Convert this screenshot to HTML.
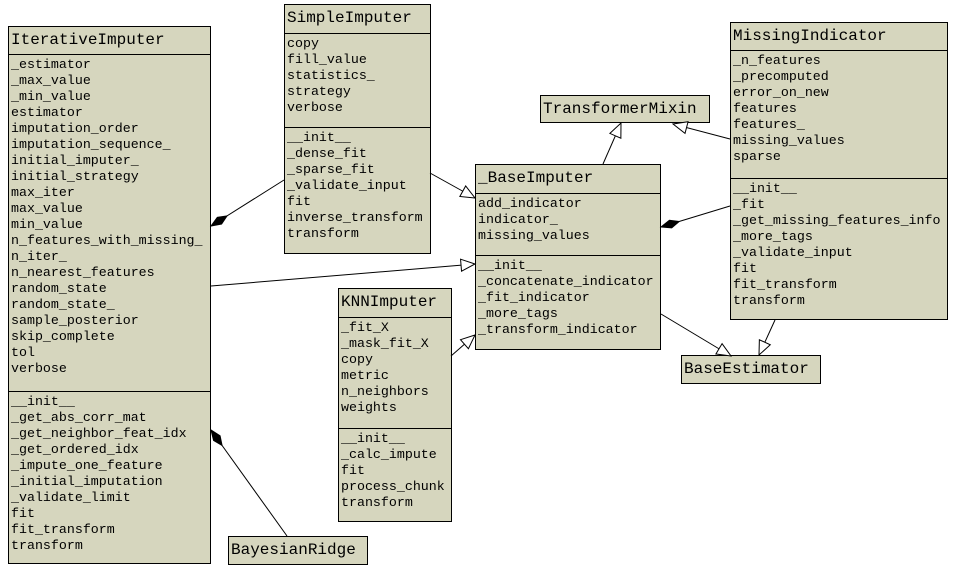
<!DOCTYPE html>
<html><head><style>
body{margin:0;width:955px;height:572px;background:#fff;position:relative;overflow:hidden;font-family:"Liberation Mono",monospace;}
.b{position:absolute;background:#d6d6be;border:1px solid #000;box-sizing:border-box;}
.h{font-size:16px;line-height:16px;padding:5px 0 0 2px;box-sizing:border-box;border-bottom:1px solid #000;white-space:pre;}
.s{font-size:13.3px;line-height:16px;padding:2px 0 0 2px;box-sizing:border-box;white-space:pre;}
.s+.s{border-top:1px solid #000;}
.n{border-bottom:none;}
svg{position:absolute;left:0;top:0;}
</style></head><body>
<div class="b" style="left:8px;top:26px;width:203px;height:538px">
<div class="h" style="height:28px">IterativeImputer</div>
<div class="s" style="height:336px">_estimator
_max_value
_min_value
estimator
imputation_order
imputation_sequence_
initial_imputer_
initial_strategy
max_iter
max_value
min_value
n_features_with_missing_
n_iter_
n_nearest_features
random_state
random_state_
sample_posterior
skip_complete
tol
verbose</div>
<div class="s">__init__
_get_abs_corr_mat
_get_neighbor_feat_idx
_get_ordered_idx
_impute_one_feature
_initial_imputation
_validate_limit
fit
fit_transform
transform</div>
</div>
<div class="b" style="left:284px;top:4px;width:147px;height:250px">
<div class="h" style="height:29px">SimpleImputer</div>
<div class="s" style="height:93px">copy
fill_value
statistics_
strategy
verbose</div>
<div class="s">__init__
_dense_fit
_sparse_fit
_validate_input
fit
inverse_transform
transform</div>
</div>
<div class="b" style="left:475px;top:164px;width:186px;height:186px">
<div class="h" style="height:29px">_BaseImputer</div>
<div class="s" style="height:61px">add_indicator
indicator_
missing_values</div>
<div class="s">__init__
_concatenate_indicator
_fit_indicator
_more_tags
_transform_indicator</div>
</div>
<div class="b" style="left:338px;top:288px;width:114px;height:234px">
<div class="h" style="height:29px">KNNImputer</div>
<div class="s" style="height:110px">_fit_X
_mask_fit_X
copy
metric
n_neighbors
weights</div>
<div class="s">__init__
_calc_impute
fit
process_chunk
transform</div>
</div>
<div class="b" style="left:730px;top:22px;width:218px;height:298px">
<div class="h" style="height:28px">MissingIndicator</div>
<div class="s" style="height:127px">_n_features
_precomputed
error_on_new
features
features_
missing_values
sparse</div>
<div class="s">__init__
_fit
_get_missing_features_info
_more_tags
_validate_input
fit
fit_transform
transform</div>
</div>
<div class="b" style="left:540px;top:95px;width:170px;height:28px"><div class="h n">TransformerMixin</div></div>
<div class="b" style="left:681px;top:355px;width:140px;height:29px"><div class="h n">BaseEstimator</div></div>
<div class="b" style="left:228px;top:536px;width:140px;height:29px"><div class="h n">BayesianRidge</div></div>
<svg width="955" height="572">
<defs>
<marker id="t" markerUnits="userSpaceOnUse" markerWidth="18" markerHeight="16" refX="15" refY="7" orient="auto"><path d="M1,1 L15,7 L1,13 Z" fill="#fff" stroke="#000"/></marker>
<marker id="d" markerUnits="userSpaceOnUse" markerWidth="22" markerHeight="12" refX="20" refY="5" orient="auto"><path d="M1,5 L10,1 L20,5 L10,9 Z" fill="#000" stroke="#000"/></marker>
</defs>
<g stroke="#000" stroke-width="1" fill="none">
<line x1="284" y1="180" x2="211" y2="226" marker-end="url(#d)"/>
<line x1="430" y1="173" x2="475" y2="198" marker-end="url(#t)"/>
<line x1="211" y1="286" x2="475" y2="264" marker-end="url(#t)"/>
<line x1="451" y1="356" x2="475" y2="335" marker-end="url(#t)"/>
<line x1="603" y1="164" x2="621" y2="123" marker-end="url(#t)"/>
<line x1="730" y1="139" x2="673" y2="124" marker-end="url(#t)"/>
<line x1="730" y1="206" x2="661" y2="227" marker-end="url(#d)"/>
<line x1="661" y1="314" x2="731" y2="356" marker-end="url(#t)"/>
<line x1="775" y1="320" x2="759" y2="355" marker-end="url(#t)"/>
<line x1="287" y1="536" x2="211" y2="430" marker-end="url(#d)"/>
</g>
</svg>
</body></html>
